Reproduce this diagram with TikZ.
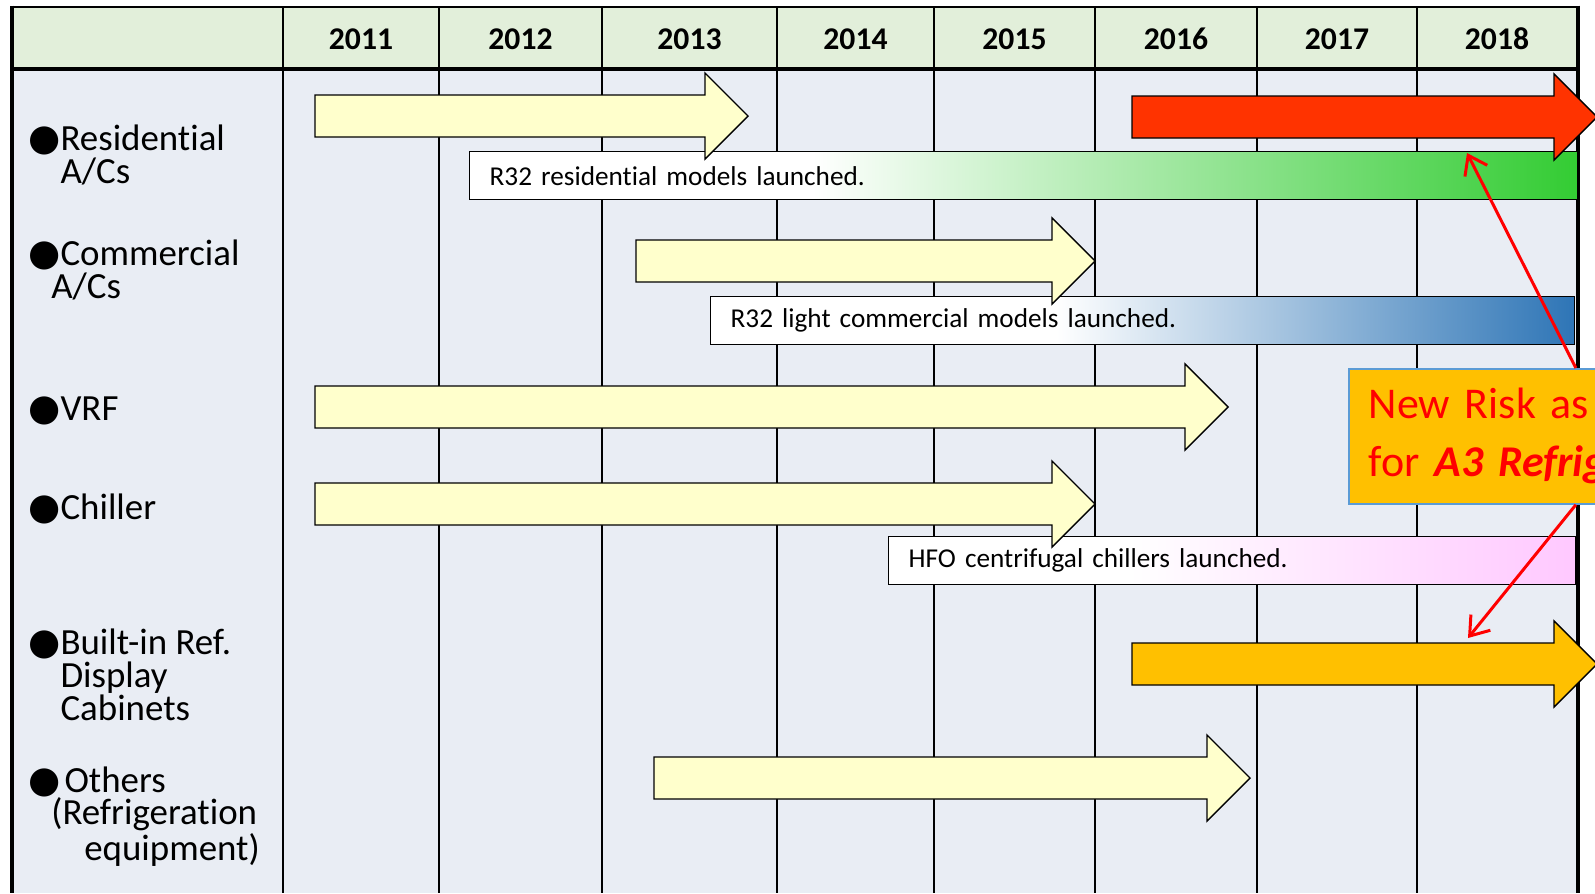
\documentclass[tikz,border=0pt]{standalone}
\usepackage{fontspec}
\setmainfont{Carlito}[Ligatures=NoCommon]
\newfontfamily\symfont{DejaVu Sans}
\usetikzlibrary{arrows.meta}

\definecolor{headgreen}{HTML}{E2EFDA}
\definecolor{bodyblue}{HTML}{E9EDF4}
\definecolor{paleyellow}{HTML}{FFFFCC}
\definecolor{hotred}{HTML}{FF3300}
\definecolor{amber}{HTML}{FFC000}
\definecolor{leafgreen}{HTML}{33CC33}
\definecolor{steelblue}{HTML}{2E75B6}
\definecolor{palepink}{HTML}{FFC8FF}
\definecolor{edgeblue}{HTML}{5B9BD5}

% white part first, then fade to the colour on the right
\pgfdeclarehorizontalshading{greenfade}{100bp}{color(0bp)=(white); color(40.5bp)=(white); color(75bp)=(leafgreen); color(100bp)=(leafgreen)}
\pgfdeclarehorizontalshading{bluefade}{100bp}{color(0bp)=(white); color(45bp)=(white); color(75bp)=(steelblue); color(100bp)=(steelblue)}
\pgfdeclarehorizontalshading{pinkfade}{100bp}{color(0bp)=(white); color(42.5bp)=(white); color(75bp)=(palepink); color(100bp)=(palepink)}

\newlength{\px}
\setlength{\px}{0.02cm}
\newcommand{\blt}{{\symfont\fontsize{21pt}{21pt}\selectfont ●}}

% style, start x, tip x, centre y
\newcommand{\tlarrow}[4]{%
  \draw[#1] (#2,{#4-21}) -- ({#3-43},{#4-21}) -- ({#3-43},{#4-43}) -- (#3,#4)
    -- ({#3-43},{#4+43}) -- ({#3-43},{#4+21}) -- (#2,{#4+21}) -- cycle;}

\tikzset{
  gridline/.style={line width=1.4pt},
  frameline/.style={line width=2.8pt},
  yearlabel/.style={font=\fontsize{18}{20}\selectfont\bfseries, inner sep=0pt},
  rowlabel/.style={font=\fontsize{21}{18.7}\selectfont, align=left, anchor=base west, inner sep=0pt},
  notebox/.style={draw, line width=0.8pt, anchor=north west, align=left, inner xsep=0.4cm, inner ysep=0pt,
    minimum height=0.96cm, font=\fontsize{15.5}{18}\selectfont},
  plainarrow/.style={draw, line width=0.8pt, fill=paleyellow},
  redarrow/.style={draw, line width=0.8pt, fill=hotred},
  amberarrow/.style={draw, line width=0.8pt, fill=amber},
  riskbox/.style={draw=edgeblue, line width=1pt, fill=amber, text=red, anchor=north west, align=left,
    inner xsep=0.4cm, text width=8.28cm, minimum height=2.7cm, font=\fontsize{25}{33}\selectfont},
  riskline/.style={draw=red, line width=1.7pt, -{Straight Barb[length=0.35cm,width=0.5cm]}}
}

\begin{document}
\begin{tikzpicture}[x=0.02cm,y=-0.02cm]
\useasboundingbox (0,0) rectangle (1595,893);
\clip (0,0) rectangle (1595,893);

% table
\fill[bodyblue] (12,69) rectangle (1578,893);
\fill[headgreen] (12,7) rectangle (1578,69);
\foreach \xl in {283,439,602,777,934,1095,1257,1417}
  \draw[gridline] (\xl,7) -- (\xl,893);
\draw[line width=1.2pt] (12,7) -- (1578,7);
\draw[frameline] (12,69) -- (1578,69);
\draw[frameline] (12,5.6) -- (12,893);
\draw[frameline] (1578,5.6) -- (1578,893);

\foreach \yr/\xc in {2011/361,2012/520.5,2013/689.5,2014/855.5,2015/1014.5,2016/1176,2017/1337,2018/1497}
  \node[yearlabel] (y\yr) at (\xc,39) {\yr};

% rows (anchored on the last line)
\node[rowlabel] (residential) at (28,183) {\blt Residential\\\phantom{\blt}A/Cs};
\node[rowlabel] (commercial) at (28,298) {\blt Commercial\\\hspace*{23\px}A/Cs};
\node[rowlabel] (vrf) at (28,420) {\blt VRF};
\node[rowlabel] (chiller) at (28,519) {\blt Chiller};
\node[rowlabel] (builtin) at (28,720) {\blt Built-in Ref.\\\phantom{\blt}Display\\\phantom{\blt}Cabinets};
\node[rowlabel] (others) at (28,860) {\blt\hspace*{4\px}Others\\\hspace*{23\px}(Refrigeration\\\hspace*{56\px}equipment)};

% launch notes
\node[notebox, shading=greenfade, text width=21.36cm] (r32res) at (469,151) {R32 residential models launched.};
\node[notebox, shading=bluefade, text width=16.48cm] (r32com) at (710,296) {R32 light commercial models launched.};
\node[notebox, shading=pinkfade, text width=12.94cm] (hfo) at (888,536) {HFO centrifugal chillers launched.};

% periods
\tlarrow{plainarrow}{315}{748}{116}
\tlarrow{redarrow}{1132}{1597}{117}
\tlarrow{plainarrow}{636}{1095}{261}
\tlarrow{plainarrow}{315}{1228}{407}
\tlarrow{plainarrow}{315}{1095}{504}
\tlarrow{amberarrow}{1132}{1597}{664}
\tlarrow{plainarrow}{654}{1250}{778}

% risk call-out
\node[riskbox] (risk) at (1348,368) {New Risk as\\for \textbf{\textit{A3 Refrig}}};
\coordinate (tipres) at (1467,153);
\coordinate (tipcab) at (1468,638);
\draw[riskline] (risk.north) -- (tipres);
\draw[riskline] (risk.south) -- (tipcab);
\end{tikzpicture}
\end{document}
